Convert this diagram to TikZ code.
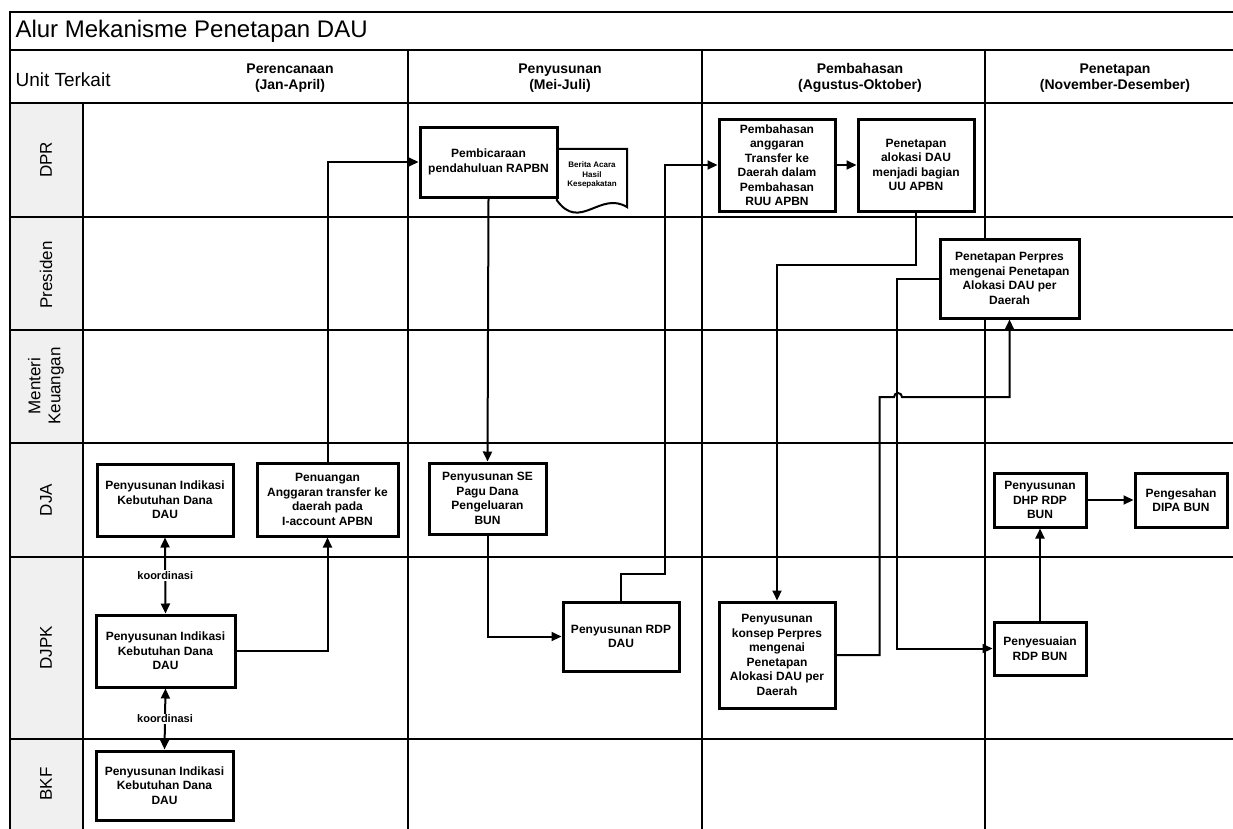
\documentclass[tikz,border=0pt]{standalone}
\usepackage{fontspec}
\setmainfont{Liberation Sans}
\usetikzlibrary{arrows.meta,calc}
\begin{document}
\begin{tikzpicture}[x=1pt,y=-1pt,>={Triangle[length=10pt,width=9pt]},
    box/.style={draw,line width=3pt,fill=white,align=center,inner sep=2pt,font=\fontsize{12}{14.5}\selectfont\bfseries},
    lane/.style={rotate=90,align=center,font=\fontsize{17}{20}\selectfont},
    head/.style={align=center,font=\fontsize{14}{16}\selectfont\bfseries},
    flow/.style={line width=2pt,->},
    grid/.style={line width=1.5pt}]
    \useasboundingbox (0,0) rectangle (1233,828);
    \fill[gray!12] (10,103) rectangle (83,835);
    \draw[grid] (1240,12)--(10,12)--(10,835);
    \draw[grid] (10,50)--(1240,50) (10,103)--(1240,103) (83,103)--(83,835);
    \foreach \y in {217,330,443,557,739} \draw[grid] (10,\y)--(1240,\y);
    \foreach \x in {408,702,985} \draw[grid] (\x,50)--(\x,835);
    \node[anchor=west,font=\fontsize{24}{28}\selectfont] (title) at (12,31) {Alur Mekanisme Penetapan DAU};
    \node[anchor=west,font=\fontsize{19}{22}\selectfont] (unit) at (12,80) {Unit Terkait};
    \node[head] (hren) at (290,78) {Perencanaan\\(Jan-April)};
    \node[head] (hsun) at (560,78) {Penyusunan\\(Mei-Juli)};
    \node[head] (hbah) at (860,78) {Pembahasan\\(Agustus-Oktober)};
    \node[head] (htap) at (1115,78) {Penetapan\\(November-Desember)};
    \node[lane] (ldpr) at (46,160) {DPR};
    \node[lane] (lpres) at (46,275) {Presiden};
    \node[lane] (lmen) at (46,386) {Menteri\\Keuangan};
    \node[lane] (ldja) at (46,500) {DJA};
    \node[lane] (ldjpk) at (46,648) {DJPK};
    \node[lane] (lbkf) at (46,784) {BKF};
    \node[align=center,inner sep=1pt,minimum width=70,minimum height=52,font=\fontsize{8}{9.5}\selectfont\bfseries] (ba) at (592,175) {Berita Acara\\Hasil\\Kesepakatan};
    \draw[line width=2pt] (ba.south west)--(ba.north west)--(ba.north east)--($(ba.south east)+(0,6)$) .. controls ($(ba.south east)+(-27,-11)$) and ($(ba.south west)+(23,31)$) .. ($(ba.south west)+(0,-1)$)--cycle;
    \node[box,minimum width=137,minimum height=70] (pemb) at (488.5,162) {Pembicaraan\\pendahuluan RAPBN};
    \node[box,minimum width=116,minimum height=92] (pang) at (777,165) {Pembahasan\\anggaran\\Transfer ke\\Daerah dalam\\Pembahasan\\RUU APBN};
    \node[box,minimum width=116,minimum height=92] (palok) at (916,165) {Penetapan\\alokasi DAU\\menjadi bagian\\UU APBN};
    \node[box,minimum width=139,minimum height=79] (perpres) at (1009.5,278.5) {Penetapan Perpres\\mengenai Penetapan\\Alokasi DAU per\\Daerah};
    \node[box,minimum width=136,minimum height=72] (djaind) at (165,500) {Penyusunan Indikasi\\Kebutuhan Dana\\DAU};
    \node[box,minimum width=141,minimum height=73] (pent) at (327.5,499.5) {Penuangan\\Anggaran transfer ke\\daerah pada\\I-account APBN};
    \node[box,minimum width=117,minimum height=71] (sepagu) at (487.5,498.5) {Penyusunan SE\\Pagu Dana\\Pengeluaran\\BUN};
    \node[box,minimum width=92,minimum height=54] (dhp) at (1040,500) {Penyusunan\\DHP RDP\\BUN};
    \node[box,minimum width=92,minimum height=54] (dipa) at (1181,500) {Pengesahan\\DIPA BUN};
    \node[box,minimum width=139,minimum height=72] (djpkind) at (165.5,651) {Penyusunan Indikasi\\Kebutuhan Dana\\DAU};
    \node[box,minimum width=116,minimum height=69] (rdpdau) at (621,636.5) {Penyusunan RDP\\DAU};
    \node[box,minimum width=116,minimum height=106] (konsep) at (777,655) {Penyusunan\\konsep Perpres\\mengenai\\Penetapan\\Alokasi DAU per\\Daerah};
    \node[box,minimum width=92,minimum height=53] (penyes) at (1040,648.5) {Penyesuaian\\RDP BUN};
    \node[box,minimum width=137,minimum height=69] (bkfind) at (164.5,785.5) {Penyusunan Indikasi\\Kebutuhan Dana\\DAU};
    \coordinate (hop) at (898,397);
    \draw[flow] (djpkind.east) -| (pent.south);
    \draw[flow] (pent.north) |- (pemb.west);
    \draw[flow] (pemb.south) -- (sepagu.north);
    \draw[flow] (sepagu.south) |- (rdpdau.west);
    \draw[flow] (rdpdau.north) |- (665,574) |- (pang.west);
    \draw[flow] (pang) -- (palok);
    \draw[flow] (palok.south) -- ++(0,52) -| (konsep.north);
    \draw[flow] (konsep.east) -- ++(43,0) |- ($(hop)+(-4,0)$) arc[start angle=180,end angle=360,radius=4] -| (perpres.south);
    \draw[flow] (perpres.west) -- ++(-42,0) |- (penyes.west);
    \draw[flow] (penyes.north) -- (dhp.south);
    \draw[flow] (dhp) -- (dipa);
    \draw[flow,<->] (djaind.south) -- (djpkind.north) node[midway,fill=white,inner sep=1pt,font=\fontsize{11}{12}\selectfont\bfseries] {koordinasi};
    \draw[flow,<->] (djpkind.south) -- (bkfind.north) node[midway,fill=white,inner sep=1pt,font=\fontsize{11}{12}\selectfont\bfseries] {koordinasi};
\end{tikzpicture}
\end{document}
